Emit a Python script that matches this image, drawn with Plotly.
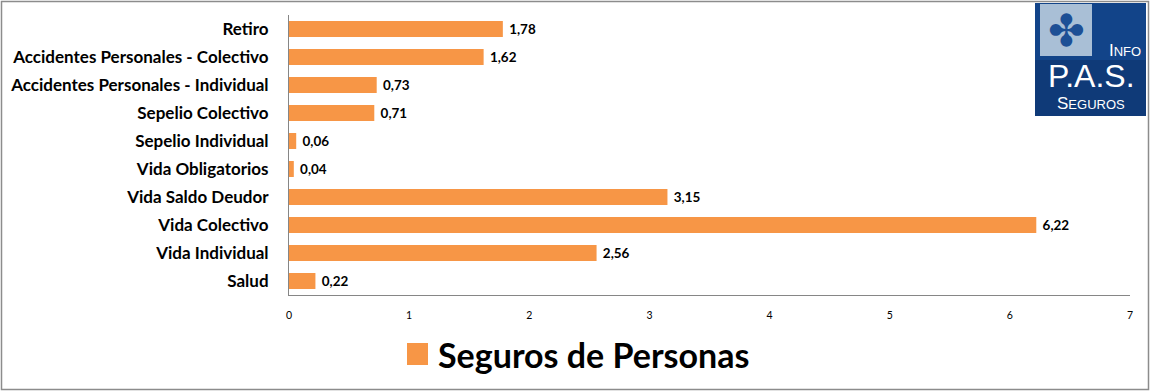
import plotly.graph_objects as go

categories = ["Retiro", "Accidentes Personales - Colectivo", "Accidentes Personales - Individual",
              "Sepelio Colectivo", "Sepelio Individual", "Vida Obligatorios",
              "Vida Saldo Deudor", "Vida Colectivo", "Vida Individual", "Salud"]
values = [1.78, 1.62, 0.73, 0.71, 0.06, 0.04, 3.15, 6.22, 2.56, 0.22]
series_name = "Seguros de Personas"
x_ticks = [0, 1, 2, 3, 4, 5, 6, 7]

BAR = "#F79646"
W, H = 1150, 391
L, R, T, B = 289, 20, 15, 96
PW, PH = W - L - R, H - T - B

def px(x):
    return (x - L) / PW

def py(y):
    return 1 - (y - T) / PH

fig = go.Figure(go.Bar(
    x=values, y=categories, orientation="h", name=series_name,
    marker=dict(color=BAR, line=dict(width=0)),
    text=["\u00a0" + f"{v:.2f}".replace(".", ",") for v in values],
    textposition="outside", cliponaxis=False,
    textfont=dict(family="Lato", size=13.5, color="#000000", weight="bold"),
    width=0.57, showlegend=False,
))

shapes = []
# outer border
shapes.append(dict(type="rect", xref="paper", yref="paper",
                   x0=px(1.5), x1=px(W - 1.5), y0=py(1.5), y1=py(H - 1.5),
                   line=dict(color="#8c8c8c", width=1.5), fillcolor="rgba(0,0,0,0)", layer="below"))
# legend square
shapes.append(dict(type="rect", xref="paper", yref="paper",
                   x0=px(407), x1=px(428), y0=py(343), y1=py(365),
                   line=dict(width=0), fillcolor=BAR))
# logo
shapes.append(dict(type="rect", xref="paper", yref="paper",
                   x0=px(1035), x1=px(1146), y0=py(3), y1=py(116),
                   line=dict(width=0), fillcolor="#124489"))
shapes.append(dict(type="rect", xref="paper", yref="paper",
                   x0=px(1035), x1=px(1146), y0=py(60), y1=py(116),
                   line=dict(width=0), fillcolor="#0f3a78"))
shapes.append(dict(type="rect", xref="paper", yref="paper",
                   x0=px(1040), x1=px(1092), y0=py(4), y1=py(56),
                   line=dict(width=0), fillcolor="#a9bfd6"))

annotations = [
    dict(text=series_name, xref="paper", yref="paper", x=px(436), y=py(354),
         xanchor="left", yanchor="middle", showarrow=False,
         font=dict(family="Lato", size=34, color="#000000", weight="bold")),
    dict(text="✤", xref="paper", yref="paper", x=px(1066), y=py(30),
         xanchor="center", yanchor="middle", showarrow=False,
         font=dict(family="DejaVu Sans", size=44, color="#1d4f95")),
    dict(text="I<span style='font-size:13px'>NFO</span>", xref="paper", yref="paper", x=px(1143), y=py(50),
         xanchor="right", yanchor="middle", showarrow=False,
         font=dict(family="Liberation Sans", size=17, color="#ffffff")),
    dict(text="P.A.S.", xref="paper", yref="paper", x=px(1091), y=py(76),
         xanchor="center", yanchor="middle", showarrow=False,
         font=dict(family="Liberation Sans", size=32, color="#ffffff")),
    dict(text="S<span style='font-size:13px'>EGUROS</span>", xref="paper", yref="paper", x=px(1091), y=py(103),
         xanchor="center", yanchor="middle", showarrow=False,
         font=dict(family="Liberation Sans", size=17, color="#ffffff")),
]

fig.update_layout(
    width=W, height=H,
    margin=dict(l=L, r=R, t=T, b=B, autoexpand=False),
    paper_bgcolor="#ffffff", plot_bgcolor="#ffffff",
    separators=",.",
    bargap=0.43,
    xaxis=dict(range=[0, 7], tickvals=x_ticks, ticks="", showgrid=False, zeroline=False,
               showline=True, linecolor="#868686", linewidth=1,
               tickfont=dict(family="Lato", size=10.5, color="#000000"),
               ticklabelstandoff=10, fixedrange=True),
    yaxis=dict(categoryorder="array", categoryarray=categories, autorange="reversed",
               ticks="", showgrid=False, showline=True, linecolor="#868686", linewidth=1,
               tickfont=dict(family="Lato", size=17, color="#000000", weight="bold"),
               ticklabelstandoff=16, fixedrange=True),
    shapes=shapes, annotations=annotations,
    showlegend=False,
)

fig.write_html("out.html", config={"displayModeBar": False},
               post_script="document.body.style.margin='0';document.body.style.overflow='hidden';")
